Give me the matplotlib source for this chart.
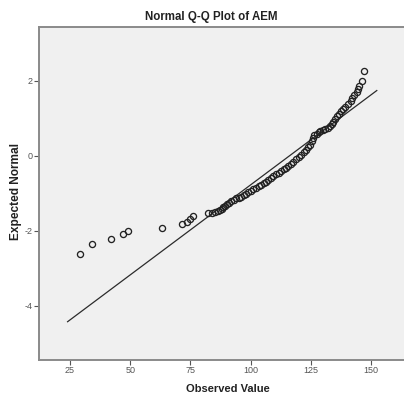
import matplotlib
matplotlib.use("Agg")
import matplotlib.pyplot as plt
import numpy as np

observed = [29.2, 34.1, 42.2, 47.0, 49.1, 63.2, 71.5, 73.4, 74.8, 76.1,
            82.5, 83.8, 85.2, 86.5, 87.3, 88.1, 88.7, 89.4, 90.2, 91.0,
            91.9, 92.9, 93.9, 95.0, 96.0, 97.1, 98.1, 99.1, 100.2, 101.2,
            102.2, 103.3, 104.3, 105.4, 106.4, 107.4, 108.5, 109.5, 110.5, 111.6,
            112.6, 113.7, 114.7, 115.7, 116.8, 117.8, 118.9, 119.9, 120.9, 122.0,
            123.0, 123.8, 124.7, 125.3, 125.9, 126.5, 127.4, 128.2, 129.0, 130.1,
            131.1, 132.1, 133.0, 133.8, 134.4, 135.0, 135.9, 136.7, 137.5, 138.4,
            139.4, 140.4, 141.5, 142.3, 143.1, 144.0, 144.6, 145.2, 146.1, 147.2]
expected = [-2.62, -2.37, -2.22, -2.10, -2.00, -1.93, -1.83, -1.77, -1.70, -1.60,
            -1.53, -1.52, -1.50, -1.48, -1.45, -1.41, -1.37, -1.33, -1.29, -1.25,
            -1.22, -1.18, -1.14, -1.12, -1.09, -1.06, -1.02, -0.98, -0.94, -0.90,
            -0.86, -0.82, -0.77, -0.73, -0.69, -0.64, -0.60, -0.54, -0.50, -0.45,
            -0.41, -0.36, -0.32, -0.28, -0.22, -0.17, -0.10, -0.03, 0.02, 0.09,
            0.15, 0.22, 0.29, 0.39, 0.47, 0.54, 0.59, 0.63, 0.66, 0.69,
            0.71, 0.75, 0.79, 0.85, 0.91, 0.97, 1.05, 1.11, 1.19, 1.26,
            1.31, 1.38, 1.45, 1.53, 1.61, 1.70, 1.78, 1.87, 2.00, 2.27]

# Reference line (mean, sd of the normal fit) and its x extent
line_mean = 116.2
line_sd = 20.8
line_x = [24.0, 152.4]

xticks = [25, 50, 75, 100, 125, 150]
yticks = [-4, -2, 0, 2]

title = "Normal Q-Q Plot of AEM"
xlabel = "Observed Value"
ylabel = "Expected Normal"

plt.rcParams['font.family'] = ['Liberation Sans', 'DejaVu Sans']

fig = plt.figure(figsize=(4.04, 3.96), dpi=100)
fig.patch.set_facecolor('white')
ax = fig.add_axes([39/404, 1 - 360/396, 1 - 39/404, (360 - 27)/396])
ax.set_facecolor('#f0f0f0')

lx = np.array(line_x)
ax.plot(lx, (lx - line_mean) / line_sd, color='#2b2b2b', lw=0.9, zorder=2)
ax.plot(observed, expected, linestyle='none', marker='o', markersize=4.4,
        markerfacecolor='none', markeredgecolor='#222222', markeredgewidth=0.95, zorder=3)

ax.set_xlim(12.13, 163.7)
ax.set_ylim(-5.455, 3.437)
ax.set_xticks(xticks)
ax.set_yticks(yticks)
ax.set_xticklabels([str(t) for t in xticks])
ax.set_yticklabels([str(t) for t in yticks])

for s in ['left', 'bottom', 'top']:
    ax.spines[s].set_color('#8a8a8a')
    ax.spines[s].set_linewidth(1.4)
ax.spines['right'].set_visible(False)
ax.tick_params(axis='both', direction='out', length=3.3, width=0.8, color='#555555',
               labelsize=6.5, labelcolor='#555555', pad=1.2)

fig.text(211/404, 1 - 17/396, title, ha='center', va='center', fontsize=8.3, fontweight='bold',
         color='#222222')
fig.text(227.5/404, 1 - 389.5/396, xlabel, ha='center', va='center', fontsize=8.0, fontweight='bold',
         color='#222222')
fig.text(16.5/404, 1 - 192/396, ylabel, ha='center', va='center', rotation=90, fontsize=8.6,
         fontweight='bold', color='#222222')

fig.savefig('out.png', dpi=100)
